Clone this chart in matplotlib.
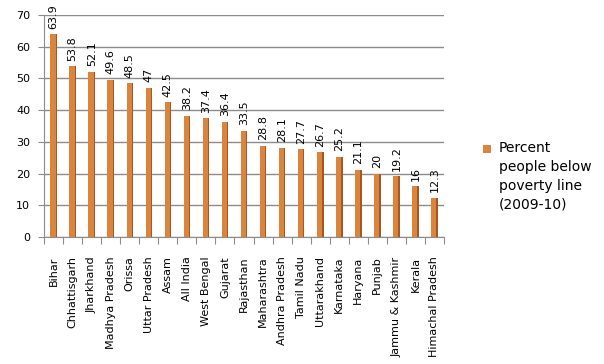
import matplotlib
matplotlib.use("Agg")
import matplotlib.pyplot as plt
from matplotlib.patches import Rectangle
import numpy as np

states = ["Bihar", "Chhattisgarh", "Jharkhand", "Madhya Pradesh", "Orissa",
          "Uttar Pradesh", "Assam", "All India", "West Bengal", "Gujarat",
          "Rajasthan", "Maharashtra", "Andhra Pradesh", "Tamil Nadu",
          "Uttarakhand", "Karnataka", "Haryana", "Punjab", "Jammu & Kashmir",
          "Kerala", "Himachal Pradesh"]
values = [63.9, 53.8, 52.1, 49.6, 48.5, 47, 42.5, 38.2, 37.4, 36.4, 33.5,
          28.8, 28.1, 27.7, 26.7, 25.2, 21.1, 20, 19.2, 16, 12.3]
value_labels = ["63.9", "53.8", "52.1", "49.6", "48.5", "47", "42.5", "38.2",
                "37.4", "36.4", "33.5", "28.8", "28.1", "27.7", "26.7", "25.2",
                "21.1", "20", "19.2", "16", "12.3"]
series_name = "Percent\npeople below\npoverty line\n(2009-10)"

plt.rcParams['font.family'] = ['DejaVu Sans']
fig = plt.figure(figsize=(6.04, 3.64), dpi=100)
ax = fig.add_axes([0.073, 0.349, 0.662, 0.61])

x = np.arange(len(states))
front = "#DA843E"
side = "#A55820"
ax.bar(x - 0.03, values, width=0.28, color=front, edgecolor="none", zorder=3,
       label=series_name)
ax.bar(x + 0.14, values, width=0.07, color=side, edgecolor="none", zorder=3)

for xi, v, lab in zip(x, values, value_labels):
    ax.annotate(lab, (xi, v), xytext=(0, 4), textcoords="offset points",
                rotation=90, ha="center", va="bottom", fontsize=8, color="#000000")

ax.set_xlim(-0.5, len(states) - 0.5)
ax.set_ylim(0, 70)
ax.set_yticks(np.arange(0, 71, 10))
ax.yaxis.grid(True, color="#8C8C8C", linewidth=1.0, zorder=0)
ax.set_axisbelow(True)

ax.set_xticks(np.arange(-0.5, len(states), 1.0))
ax.set_xticklabels([])
ax.set_xticks(x, minor=True)
ax.set_xticklabels(states, minor=True, rotation=90, fontsize=8)
ax.tick_params(axis="x", which="minor", length=0, pad=14)
ax.tick_params(axis="x", which="major", length=5, color="#8C8C8C")
ax.tick_params(axis="y", length=4, color="#8C8C8C", labelsize=8, pad=6)

for s in ["top", "right"]:
    ax.spines[s].set_visible(False)
for s in ["left", "bottom"]:
    ax.spines[s].set_color("#8C8C8C")

# legend (Excel style: marker aligned with first line)
W, H = 604, 364
fig.patches.append(Rectangle((483 / W, 1 - 153 / H), 8 / W, 8 / H,
                             transform=fig.transFigure, facecolor=front,
                             edgecolor="none"))
fig.text(499 / W, 1 - 141 / H, series_name, ha="left", va="top", fontsize=10,
         linespacing=1.45, color="#000000")

fig.savefig("out.png", dpi=100)
